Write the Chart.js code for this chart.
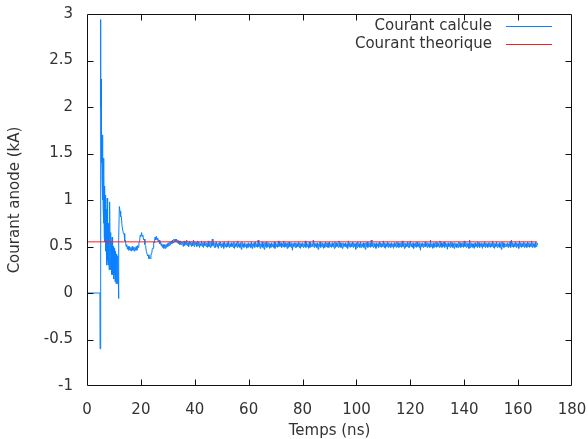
<!DOCTYPE html>
<html><head><meta charset="utf-8">
<script src="https://cdn.jsdelivr.net/npm/chart.js@4"></script>
<style>html,body{margin:0;padding:0;background:#fff}canvas{display:block}</style>
</head><body>
<canvas id="c" width="588" height="439"></canvas>
<script>
const seriesNames = ['Courant calcule', 'Courant theorique'];
const xTicks = [0, 20, 40, 60, 80, 100, 120, 140, 160, 180];
const yTicks = [-1, -0.5, 0, 0.5, 1, 1.5, 2, 2.5, 3];
const xTitle = 'Temps (ns)';
const yTitle = 'Courant anode (kA)';

// transient part of the computed current (ns, kA)
const transientTimes = [0, 4.8, 4.85, 5.0, 5.05, 5.1, 5.15, 5.2, 5.25, 5.3, 5.35, 5.4, 5.45, 5.5,
  5.6, 5.7, 5.8, 5.9, 6.0, 6.1, 6.2, 6.3, 6.4, 6.5, 6.6, 6.7, 6.8, 6.9, 7.0, 7.1, 7.2, 7.3, 7.4,
  7.5, 7.6, 7.7, 7.8, 7.9, 8.0, 8.1, 8.2, 8.3, 8.4, 8.5, 8.6, 8.7, 8.8, 8.9, 9.0, 9.1, 9.2, 9.3,
  9.4, 9.5, 9.6, 9.7, 9.8, 9.9, 10.0, 10.1, 10.2, 10.3, 10.4, 10.5, 10.6, 10.7, 10.8, 10.9, 11.0,
  11.1, 11.2, 11.3, 11.4, 11.5, 11.6, 11.7, 11.75, 11.85, 12.0,
  12.25, 12.5, 12.75, 13.0, 13.25, 13.5, 13.75, 14.0, 14.25, 14.5, 14.75, 15.0, 15.25, 15.5, 15.75,
  16.0, 16.25, 16.5, 16.75, 17.0, 17.25, 17.5, 17.75, 18.0, 18.25, 18.5, 18.75, 19.0, 19.25, 19.5,
  19.75, 20.0, 20.25, 20.5, 20.75, 21.0, 21.25, 21.5, 21.75, 22.0, 22.25, 22.5, 22.75, 23.0, 23.25,
  23.5, 23.75, 24.0, 24.25, 24.5, 24.75, 25.0, 25.25, 25.5, 25.75, 26.0, 26.25, 26.5, 26.75, 27.0,
  27.25, 27.5, 27.75, 28.0, 28.25, 28.5, 28.75, 29.0, 29.25, 29.5, 29.75, 30.0, 30.25, 30.5, 30.75,
  31.0, 31.25, 31.5, 31.75, 32.0, 32.25, 32.5, 32.75, 33.0, 33.25, 33.5, 33.75, 34.0, 34.25, 34.5,
  34.75, 35.0, 35.25];
const transientCurrent = [0, 0, -0.6, 2.35, 2.94, 2.3, 2.0, 2.3, 1.6, 2.1, 1.5, 1.9, 1.4, 1.75,
  1.2, 1.7, 1.0, 1.5, 0.9, 1.45, 0.75, 1.3, 0.6, 1.15, 0.55, 1.05, 0.5, 1.0, 0.45, 0.9, 0.4, 0.85, 0.3,
  1.02, 0.35, 0.8, 0.3, 0.75, 0.35, 0.7, 0.25, 0.85, 0.3, 0.98, 0.3, 0.65, 0.25, 0.6, 0.3, 0.55, 0.2, 0.6,
  0.25, 0.55, 0.2, 0.5, 0.22, 0.45, 0.15, 0.48, 0.2, 0.4, 0.12, 0.45, 0.18, 0.38, 0.1, 0.42, 0.15,
  0.35, 0.12, 0.4, 0.1, 0.3, 0.15, 0.35, -0.06, 0.6, 0.93,
  0.88, 0.82, 0.82, 0.72, 0.72, 0.64, 0.64, 0.56, 0.57, 0.50, 0.52, 0.47, 0.50, 0.46, 0.50,
  0.46, 0.49, 0.45, 0.50, 0.46, 0.49, 0.45, 0.49, 0.46, 0.50, 0.46, 0.51, 0.49, 0.54, 0.55,
  0.62, 0.61, 0.65, 0.61, 0.62, 0.57, 0.58, 0.52, 0.51, 0.45, 0.45, 0.40, 0.41, 0.37, 0.39,
  0.37, 0.42, 0.42, 0.48, 0.48, 0.55, 0.54, 0.60, 0.57, 0.61, 0.57, 0.59, 0.55, 0.57, 0.53,
  0.55, 0.51, 0.53, 0.49, 0.52, 0.48, 0.52, 0.48, 0.52, 0.49, 0.53, 0.50, 0.54, 0.51, 0.55,
  0.52, 0.56, 0.53, 0.57, 0.54, 0.58, 0.55, 0.58, 0.55, 0.58, 0.54, 0.57, 0.53, 0.56, 0.52,
  0.56, 0.52, 0.55];

// steady part, sampled every 0.25 ns from 35.5 ns
const steadyStart = 35.5, steadyStep = 0.25;
const steadyCurrent = [
  0.54,0.50,0.56,0.51,0.55,0.52,0.57,0.51,0.54,0.50,0.56,0.52,0.55,0.50,0.54,0.51,0.57,0.50,0.55,0.52,0.54,0.50,0.56,0.51,
  0.55,0.49,0.53,0.51,0.56,0.50,0.54,0.49,0.55,0.51,0.53,0.50,0.54,0.49,0.56,0.50,0.53,0.49,0.55,0.50,0.58,0.51,0.54,0.49,
  0.54,0.49,0.55,0.50,0.53,0.48,0.54,0.51,0.55,0.49,0.53,0.50,0.54,0.48,0.55,0.50,0.53,0.49,0.54,0.50,0.56,0.49,0.53,0.50,
  0.54,0.50,0.53,0.49,0.55,0.48,0.53,0.50,0.54,0.49,0.56,0.50,0.53,0.49,0.54,0.47,0.55,0.50,0.53,0.49,0.54,0.50,0.53,0.48,
  0.53,0.49,0.54,0.50,0.53,0.49,0.55,0.48,0.53,0.50,0.54,0.49,0.55,0.50,0.53,0.49,0.57,0.50,0.54,0.48,0.53,0.50,0.55,0.49,
  0.53,0.47,0.54,0.50,0.55,0.49,0.53,0.50,0.54,0.48,0.53,0.49,0.54,0.50,0.53,0.49,0.55,0.48,0.54,0.50,0.53,0.49,0.56,0.50,
  0.55,0.50,0.54,0.49,0.53,0.50,0.56,0.49,0.54,0.50,0.53,0.48,0.54,0.49,0.55,0.50,0.53,0.49,0.54,0.46,0.53,0.50,0.54,0.49,
  0.54,0.49,0.53,0.50,0.55,0.49,0.54,0.48,0.53,0.50,0.54,0.49,0.53,0.50,0.56,0.49,0.54,0.50,0.53,0.48,0.55,0.49,0.54,0.50,
  0.53,0.50,0.57,0.49,0.54,0.50,0.53,0.49,0.54,0.47,0.53,0.50,0.55,0.49,0.53,0.50,0.54,0.48,0.53,0.49,0.55,0.50,0.54,0.49,
  0.54,0.49,0.55,0.50,0.53,0.49,0.54,0.50,0.53,0.48,0.55,0.49,0.54,0.50,0.53,0.49,0.56,0.50,0.54,0.49,0.53,0.48,0.54,0.50,
  0.53,0.50,0.54,0.49,0.53,0.48,0.56,0.50,0.54,0.49,0.53,0.50,0.55,0.49,0.54,0.50,0.53,0.47,0.54,0.49,0.55,0.50,0.53,0.49,
  0.55,0.49,0.53,0.50,0.54,0.49,0.53,0.47,0.54,0.50,0.55,0.49,0.53,0.50,0.54,0.49,0.57,0.50,0.53,0.49,0.54,0.50,0.53,0.48,
  0.54,0.50,0.53,0.49,0.55,0.50,0.54,0.49,0.53,0.50,0.56,0.49,0.54,0.48,0.53,0.50,0.55,0.49,0.54,0.50,0.53,0.49,0.54,0.50,
  0.53,0.48,0.54,0.50,0.53,0.49,0.55,0.50,0.54,0.49,0.53,0.50,0.54,0.49,0.56,0.50,0.53,0.48,0.54,0.49,0.53,0.50,0.55,0.49,
  0.54,0.49,0.56,0.50,0.53,0.49,0.54,0.48,0.53,0.50,0.54,0.49,0.55,0.50,0.53,0.49,0.54,0.46,0.53,0.50,0.54,0.49,0.53,0.50,
  0.55,0.50,0.53,0.49,0.54,0.50,0.53,0.49,0.57,0.50,0.53,0.48,0.54,0.49,0.53,0.50,0.55,0.49,0.54,0.50,0.53,0.49,0.56,0.50,
  0.54,0.49,0.53,0.50,0.55,0.49,0.54,0.50,0.53,0.47,0.54,0.50,0.53,0.49,0.55,0.50,0.54,0.49,0.53,0.48,0.54,0.50,0.53,0.49,
  0.53,0.49,0.55,0.50,0.54,0.49,0.53,0.50,0.54,0.49,0.56,0.50,0.53,0.49,0.54,0.50,0.53,0.48,0.57,0.49,0.54,0.50,0.53,0.49,
  0.53,0.48,0.54,0.50,0.53,0.49,0.55,0.50,0.54,0.49,0.53,0.50,0.54,0.48,0.53,0.50,0.55,0.49,0.54,0.50,0.53,0.49,0.54,0.50,
  0.54,0.49,0.53,0.50,0.56,0.49,0.54,0.48,0.53,0.50,0.55,0.49,0.53,0.50,0.54,0.49,0.53,0.47,0.55,0.50,0.54,0.49,0.53,0.50,
  0.53,0.50,0.54,0.49,0.53,0.50,0.55,0.49,0.57,0.50,0.54,0.49,0.53,0.50,0.55,0.49,0.54,0.50,0.53,0.48,0.56,0.50,0.54,0.49,
  0.53,0.50,0.55,0.49,0.54,0.50,0.53,0.49,0.55,0.50,0.54,0.49,0.53,0.50,0.56,0.49,0.54,0.50,0.53,0.49,0.55,0.50,0.54,0.52];

// theoretical current
const theoryTimes = [0, 167];
const theoryCurrent = [0.55, 0.55];

const calcPoints = transientTimes.map((t, i) => ({x: t, y: transientCurrent[i]}))
  .concat(steadyCurrent.map((v, i) => ({x: steadyStart + i * steadyStep, y: v})));
const theoryPoints = theoryTimes.map((t, i) => ({x: t, y: theoryCurrent[i]}));

const BLUE = 'rgb(10,128,255)';
const RED = 'rgb(255,30,30)';
const TEXT = '#333';
const FONT = 'DejaVu Sans';
Chart.defaults.font.family = FONT;
Chart.defaults.font.size = 15;
Chart.defaults.color = TEXT;

const framePlugin = {
  id: 'frame',
  afterDatasetsDraw(chart) {
    const {ctx, chartArea: a, scales: {x, y}} = chart;
    ctx.save();
    ctx.lineWidth = 1;
    const L = Math.round(a.left) + 0.5, R = Math.round(a.right) - 0.5;
    const T = Math.round(a.top) + 0.5, B = Math.round(a.bottom) - 0.5;
    ctx.strokeStyle = '#111';
    ctx.beginPath();
    ctx.rect(L, T, R - L, B - T);
    const len = 6;
    xTicks.forEach(v => {
      if (v === xTicks[0] || v === xTicks[xTicks.length - 1]) return;
      const px = Math.round(x.getPixelForValue(v)) + 0.5;
      ctx.moveTo(px, B); ctx.lineTo(px, B - len);
      ctx.moveTo(px, T); ctx.lineTo(px, T + len);
    });
    yTicks.forEach(v => {
      if (v === yTicks[0] || v === yTicks[yTicks.length - 1]) return;
      const py = Math.round(y.getPixelForValue(v)) + 0.5;
      ctx.moveTo(L, py); ctx.lineTo(L + len, py);
      ctx.moveTo(R, py); ctx.lineTo(R - len, py);
    });
    ctx.stroke();
    ctx.closePath();
    // key (gnuplot style: text right-aligned, sample line to the right)
    ctx.font = '15px "' + FONT + '"';
    ctx.fillStyle = TEXT;
    ctx.textAlign = 'right';
    ctx.textBaseline = 'middle';
    const keyColors = [BLUE, RED];
    for (let i = 0; i < seriesNames.length; i++) {
      const ty = Math.round(a.top + 12 + i * 18);
      ctx.fillText(seriesNames[i], a.right - 80, ty);
      ctx.beginPath();
      ctx.strokeStyle = keyColors[i];
      ctx.moveTo(a.right - 66, ty + 0.5);
      ctx.lineTo(a.right - 20, ty + 0.5);
      ctx.stroke();
    }
    ctx.restore();
  }
};

new Chart(document.getElementById('c'), {
  type: 'scatter',
  data: {
    datasets: [
      {label: seriesNames[1], data: theoryPoints, showLine: true, borderColor: RED, borderWidth: 1,
       pointRadius: 0, tension: 0},
      {label: seriesNames[0], data: calcPoints, showLine: true, borderColor: BLUE, borderWidth: 1,
       pointRadius: 0, tension: 0}
    ]
  },
  options: {
    responsive: false,
    animation: false,
    events: [],
    layout: {padding: {top: 14, right: 16, left: 0, bottom: 0}},
    plugins: {legend: {display: false}, tooltip: {enabled: false}},
    scales: {
      x: {
        type: 'linear', min: 0, max: 180,
        afterBuildTicks: s => { s.ticks = xTicks.map(v => ({value: v})); },
        afterFit: s => { s.height = 53; s.paddingLeft = 0; s.paddingRight = 0; },
        grid: {display: false, drawTicks: false},
        border: {display: false},
        ticks: {padding: 15, maxRotation: 0, callback: v => String(v)},
        title: {display: true, text: xTitle, font: {lineHeight: 1}, padding: {top: 4, bottom: 0}}
      },
      y: {
        type: 'linear', min: -1, max: 3,
        afterBuildTicks: s => { s.ticks = yTicks.map(v => ({value: v})); },
        afterFit: s => { s.width = 87; s.paddingTop = 0; s.paddingBottom = 0; },
        grid: {display: false, drawTicks: false},
        border: {display: false},
        ticks: {padding: 14, callback: v => String(v)},
        title: {display: true, text: yTitle, padding: {top: 6, bottom: 0}}
      }
    }
  },
  plugins: [framePlugin]
});
</script>
</body></html>
